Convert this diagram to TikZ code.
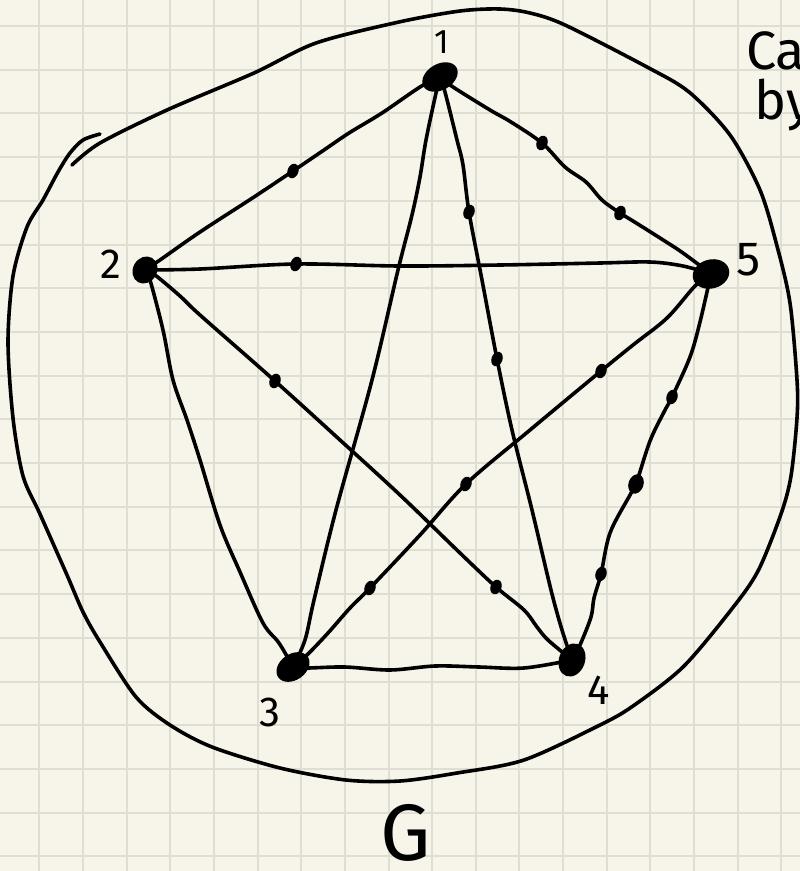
\documentclass[tikz,border=0pt]{standalone}
\usepackage{fontspec}
\setmainfont{Fira Sans}
\usetikzlibrary{shapes.geometric}
\definecolor{paper}{HTML}{F7F5EA}
\definecolor{gridc}{HTML}{E0DED2}
\pgfdeclarelayer{bg}
\pgfdeclarelayer{edges}
\pgfsetlayers{bg,edges,main}
\begin{document}
\begin{tikzpicture}[x=1pt,y=-1pt,
  vtx/.style={ellipse,fill=black,inner sep=0pt},
  sub/.style={ellipse,fill=black,inner sep=0pt,minimum width=15pt,minimum height=11pt,rotate=70},
  edgeline/.style={line width=3.6pt,line cap=round,line join=round},
  blob/.style={line width=3.6pt,line cap=round,line join=round},
  gridline/.style={gridc,line width=2pt},
  lbl/.style={inner sep=0pt,font=\fontsize{42}{42}\selectfont},
  note/.style={inner sep=0pt,anchor=base west,font=\fontsize{54}{54}\selectfont},
]
\useasboundingbox (0,0) rectangle (800,871);
\clip (0,0) rectangle (800,871);
\begin{pgfonlayer}{bg}
  \fill[paper] (0,0) rectangle (800,871);
  \foreach \i in {0,...,18} \draw[gridline] ({39.3+43.65*\i},0) -- ({39.3+43.65*\i},871);
  \foreach \j in {0,...,19} \draw[gridline] (0,{26+43.7*\j}) -- (800,{26+43.7*\j});
\end{pgfonlayer}

% main vertices
\node[vtx,minimum width=38pt,minimum height=26pt,rotate=30] (n1) at (440,77) {};
\node[vtx,minimum width=28pt,minimum height=24pt,rotate=60] (n2) at (145,270) {};
\node[vtx,minimum width=36pt,minimum height=26pt,rotate=35] (n3) at (293,667) {};
\node[vtx,minimum width=34pt,minimum height=26pt,rotate=70] (n4) at (572,660) {};
\node[vtx,minimum width=37pt,minimum height=29pt,rotate=15] (n5) at (711,274) {};

% subdivision vertices
\node[sub] (d12) at (293,171) {};
\node[sub] (d15a) at (542,143) {};
\node[sub] (d15b) at (620,213) {};
\node[sub] (d14a) at (469,212) {};
\node[sub] (d14b) at (497,359) {};
\node[sub] (d25) at (296,264) {};
\node[sub] (d24a) at (275,381) {};
\node[sub] (d24b) at (496,587) {};
\node[sub] (d35a) at (601,371) {};
\node[sub] (d35b) at (466,484) {};
\node[sub] (d35c) at (370,588) {};
\node[sub] (d45a) at (672,397) {};
\node[sub,minimum width=20pt,minimum height=15pt] (d45b) at (636,484) {};
\node[sub] (d45c) at (601,574) {};

% labels
\node[lbl,font=\fontsize{34}{34}\selectfont] (l1) at (442,42) {1};
\node[lbl] (l2) at (111,264) {2};
\node[lbl] (l3) at (270,712) {3};
\node[lbl] (l4) at (599,690) {4};
\node[lbl,font=\fontsize{48}{48}\selectfont] (l5) at (749,260) {5};
\node[lbl,font=\fontsize{80}{80}\selectfont] (lG) at (406,833) {G};
\node[note] (ca) at (746,69) {Ca};
\node[note] (by) at (754,119) {by};

\begin{pgfonlayer}{edges}
  % 1-2
  \draw[edgeline] plot[smooth,tension=0.55] coordinates {(n1.center) (420,87) (382,113) (349,133) (324,150) (d12.center) (254,197) (200,232) (160,260) (n2.center)};
  % 1-5
  \draw[edgeline] plot[smooth,tension=0.55] coordinates {(n1.center) (453,87) (490,110) (511,122) (d15a.center) (565,167) (586,182) (602,200) (d15b.center) (633,221) (660,238) (683,253) (n5.center)};
  % 1-4
  \draw[edgeline] plot[smooth,tension=0.55] coordinates {(n1.center) (445,92) (457,140) (463,165) (d14a.center) (482,280) (d14b.center) (512,430) (532,510) (551,590) (562,630) (n4.center)};
  % 1-3
  \draw[edgeline] plot[smooth,tension=0.55] coordinates {(n1.center) (436,93) (426,140) (420,177) (412,215) (398,270) (372,380) (336,510) (314,600) (305,640) (n3.center)};
  % 2-5
  \draw[edgeline] plot[smooth,tension=0.55] coordinates {(n2.center) (200,269) (d25.center) (400,266) (500,265) (600,263) (650,262) (683,266) (n5.center)};
  % 2-3
  \draw[edgeline] plot[smooth,tension=0.55] coordinates {(n2.center) (150,280) (163,330) (173,380) (187,420) (200,460) (220,525) (240,572) (263,623) (279,643) (n3.center)};
  % 2-4
  \draw[edgeline] plot[smooth,tension=0.55] coordinates {(n2.center) (155,275) (180,296) (200,315) (d24a.center) (340,440) (400,495) (460,553) (d24b.center) (524,610) (537,627) (548,640) (n4.center)};
  % 3-4
  \draw[edgeline] plot[smooth,tension=0.55] coordinates {(n3.center) (307,668) (345,667) (390,670) (435,666) (479,667) (524,668) (n4.center)};
  % 3-5
  \draw[edgeline] plot[smooth,tension=0.55] coordinates {(n3.center) (307,655) (328,633) (350,608) (d35c.center) (420,535) (d35b.center) (530,430) (d35a.center) (633,345) (667,318) (695,286) (n5.center)};
  % 4-5
  \draw[edgeline] plot[smooth,tension=0.55] coordinates {(n4.center) (580,645) (591,617) (594,598) (d45c.center) (610,533) (630,495) (d45b.center) (650,441) (664,412) (d45a.center) (690,357) (700,322) (n5.center)};
\end{pgfonlayer}

% enclosing curve
\draw[blob] plot[smooth,tension=0.5] coordinates {(72,165) (100,143) (167,110) (254,73) (316,43) (399,22) (460,11) (500,9) (530,13) (565,25) (647,67) (689,92) (730,135) (760,190) (777,246) (790,303) (797,380) (797,418) (791,476) (781,514) (758,571) (731,610) (683,667) (633,706) (600,725) (524,760) (457,773) (400,781) (346,780) (280,768) (212,747) (170,725) (136,697) (100,642) (83,612) (67,575) (40,514) (23,476) (13,418) (8,342) (13,276) (27,227) (43,200) (58,172) (70,153) (83,140) (100,134)};
\end{tikzpicture}
\end{document}
